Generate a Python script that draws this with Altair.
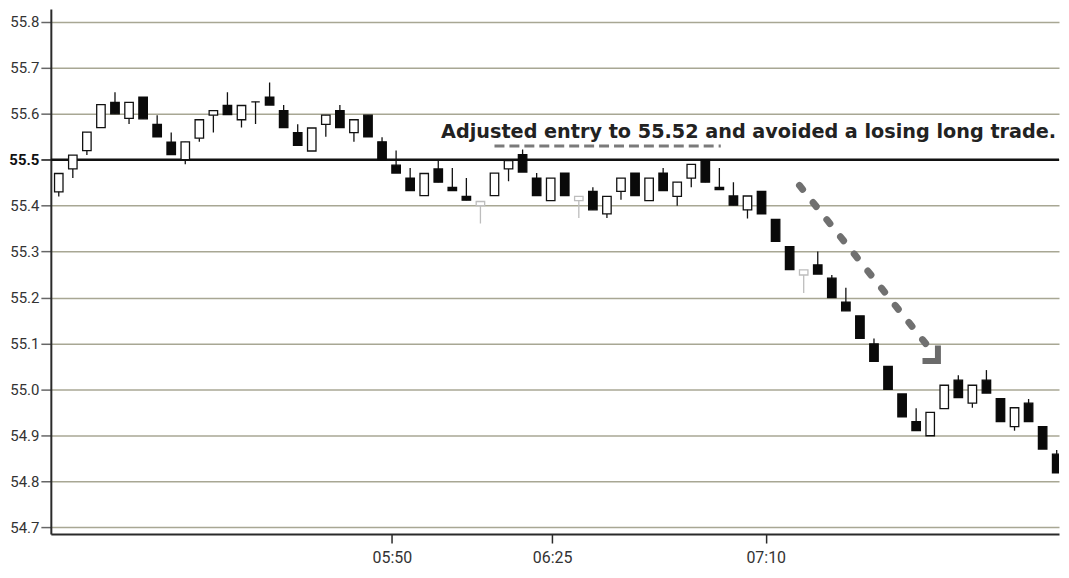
import altair as alt
import pandas as pd

# ---- candle data (index = bar number, 3-minute bars) ----
opens = [55.43, 55.48, 55.52, 55.57, 55.625, 55.59, 55.636, 55.577, 55.538, 55.50,
         55.547, 55.597, 55.618, 55.587, 55.626, 55.636, 55.607, 55.559, 55.519, 55.577,
         55.607, 55.559, 55.597, 55.539, 55.488, 55.46, 55.422, 55.48, 55.44, 55.42,
         55.40, 55.422, 55.48, 55.511, 55.46, 55.411, 55.471, 55.411, 55.431, 55.382,
         55.431, 55.471, 55.411, 55.471, 55.42, 55.46, 55.50, 55.44, 55.421, 55.391,
         55.431, 55.37, 55.311, 55.249, 55.271, 55.242, 55.19, 55.16, 55.099, 55.05,
         54.99, 54.93, 54.899, 54.958, 55.02, 54.97, 55.02, 54.98, 54.919, 54.97,
         54.919, 54.859]
closes = [55.47, 55.51, 55.56, 55.62, 55.60, 55.625, 55.589, 55.55, 55.511, 55.539,
          55.587, 55.607, 55.598, 55.618, 55.626, 55.619, 55.57, 55.531, 55.569, 55.597,
          55.57, 55.587, 55.55, 55.50, 55.471, 55.433, 55.47, 55.451, 55.433, 55.412,
          55.409, 55.471, 55.498, 55.473, 55.422, 55.46, 55.422, 55.42, 55.391, 55.42,
          55.46, 55.422, 55.46, 55.433, 55.451, 55.49, 55.451, 55.435, 55.401, 55.421,
          55.382, 55.322, 55.261, 55.26, 55.251, 55.20, 55.171, 55.111, 55.061, 55.0,
          54.94, 54.91, 54.95, 55.009, 54.982, 55.009, 54.992, 54.93, 54.96, 54.93,
          54.87, 54.818]
highs = [55.47, 55.51, 55.56, 55.62, 55.647, 55.625, 55.636, 55.597, 55.559, 55.539,
         55.587, 55.607, 55.647, 55.618, 55.626, 55.668, 55.619, 55.577, 55.569, 55.597,
         55.619, 55.587, 55.597, 55.549, 55.52, 55.482, 55.47, 55.498, 55.482, 55.46,
         55.409, 55.471, 55.498, 55.522, 55.471, 55.46, 55.471, 55.42, 55.44, 55.42,
         55.46, 55.471, 55.46, 55.482, 55.451, 55.49, 55.50, 55.482, 55.451, 55.421,
         55.431, 55.37, 55.311, 55.26, 55.30, 55.249, 55.221, 55.16, 55.111, 55.05,
         54.99, 54.959, 54.95, 55.009, 55.031, 55.009, 55.042, 54.98, 54.96, 54.979,
         54.919, 54.868]
lows = [55.42, 55.46, 55.51, 55.57, 55.60, 55.578, 55.589, 55.55, 55.511, 55.49,
        55.539, 55.559, 55.598, 55.57, 55.578, 55.619, 55.57, 55.531, 55.519, 55.55,
        55.57, 55.539, 55.55, 55.50, 55.471, 55.433, 55.422, 55.451, 55.433, 55.412,
        55.361, 55.422, 55.453, 55.473, 55.422, 55.411, 55.422, 55.373, 55.391, 55.373,
        55.413, 55.422, 55.411, 55.433, 55.40, 55.44, 55.451, 55.435, 55.401, 55.372,
        55.382, 55.322, 55.261, 55.21, 55.251, 55.20, 55.171, 55.111, 55.061, 55.0,
        54.94, 54.91, 54.899, 54.958, 54.982, 54.96, 54.992, 54.93, 54.91, 54.93,
        54.87, 54.818]
gray_bars = [30, 37, 53]

y_ticks = [54.7, 54.8, 54.9, 55.0, 55.1, 55.2, 55.3, 55.4, 55.5, 55.6, 55.7, 55.8]
x_tick_pos = [23.7, 35.1, 50.3]
x_tick_labels = ["05:50", "06:25", "07:10"]

entry_level = [55.5]
adjusted_level = [55.53]
annotation = ["Adjusted entry to 55.52 and avoided a losing long trade."]
arrow_x = [52.7, 62.2]
arrow_y = [55.444, 55.08]
arrow_head = (62.55, 55.062)

# ---- tables ----
styles = []
for i, (o, c) in enumerate(zip(opens, closes)):
    if i in gray_bars:
        styles.append("gray")
    elif c >= o:
        styles.append("up")
    else:
        styles.append("down")

df = pd.DataFrame({
    "idx": list(range(len(opens))),
    "open": opens, "close": closes, "high": highs, "low": lows, "style": styles,
})

xscale = alt.Scale(domain=[-0.21, 70.81], nice=False, zero=False)
yscale = alt.Scale(domain=[54.685, 55.828], nice=False, zero=False)

label_expr = "".join(f"datum.value == {p} ? '{l}' : " for p, l in zip(x_tick_pos, x_tick_labels)) + "''"

x_axis = alt.Axis(values=x_tick_pos, labelExpr=label_expr, title=None, grid=False,
                  domainColor="#2a2a2a", domainWidth=2, tickColor="#2a2a2a", tickWidth=1.5,
                  tickSize=9, labelFont="Roboto", labelFontSize=16, labelColor="#333333",
                  labelPadding=7)
y_axis = alt.Axis(values=y_ticks, format=".1f", title=None, grid=True,
                  gridColor="#a8a794", gridWidth=1.5,
                  domainColor="#2a2a2a", domainWidth=2,
                  tickColor=alt.expr("datum.value == 55.5 ? '#111111' : '#666666'"),
                  tickWidth=1.5, tickSize=10,
                  labelFont="Roboto", labelFontSize=15,
                  labelFontWeight=alt.expr("datum.value == 55.5 ? 'bold' : 'normal'"),
                  labelColor=alt.expr("datum.value == 55.5 ? '#111111' : '#333333'"),
                  labelPadding=2)


def X(field):
    return alt.X(field, scale=xscale, axis=x_axis)


def Y(field):
    return alt.Y(field, scale=yscale, axis=y_axis)


style_dom = ["up", "down", "gray"]

wicks = alt.Chart(df).mark_rule(strokeWidth=1.3, clip=True).encode(
    x=X("idx:Q"), y=Y("low:Q"), y2="high:Q",
    color=alt.Color("style:N", scale=alt.Scale(domain=style_dom,
                    range=["#111111", "#111111", "#bdbdbd"]), legend=None),
)

bodies = alt.Chart(df).mark_bar(width=8.5, strokeWidth=1.3, clip=True).encode(
    x=X("idx:Q"), y=Y("open:Q"), y2="close:Q",
    fill=alt.Fill("style:N", scale=alt.Scale(domain=style_dom,
                  range=["#ffffff", "#0a0a0a", "#ffffff"]), legend=None),
    stroke=alt.Stroke("style:N", scale=alt.Scale(domain=style_dom,
                      range=["#111111", "#0a0a0a", "#bdbdbd"]), legend=None),
)

entry = alt.Chart(pd.DataFrame({"level": entry_level})).mark_rule(
    color="#111111", strokeWidth=2.5).encode(y=Y("level:Q"))

adj = alt.Chart(pd.DataFrame({"level": adjusted_level, "x0": [31.0], "x1": [47.1]})).mark_rule(
    color="#7a7a7a", strokeWidth=3, strokeDash=[10, 5]).encode(
    x=X("x0:Q"), x2="x1:Q", y=Y("level:Q"))

text = alt.Chart(pd.DataFrame({"t": annotation, "x": [27.2], "y": [55.548]})).mark_text(
    align="left", baseline="alphabetic", font="DejaVu Sans", fontWeight="bold",
    fontSize=19.3, color="#222222").encode(
    x=X("x:Q"), y=Y("y:Q"), text="t:N")

arrow = alt.Chart(pd.DataFrame({"x": arrow_x, "y": arrow_y, "o": [0, 1]})).mark_line(
    color="#707070", strokeWidth=7, strokeDash=[5, 17], strokeCap="round").encode(
    x=X("x:Q"), y=Y("y:Q"), order="o:Q")

head = alt.Chart(pd.DataFrame({"x": [arrow_head[0]], "y": [arrow_head[1]]})).mark_point(
    shape="M-1,-1L0,0L1,-1", angle=315, size=480, filled=False, strokeWidth=6,
    color="#6b6b6b", opacity=1, strokeJoin="miter").encode(
    x=X("x:Q"), y=Y("y:Q"))

chart = alt.layer(wicks, entry, bodies, adj, text, arrow, head).properties(
    width=1012, height=527, padding=0, background="white"
).configure_view(strokeWidth=0)

chart.save("out.html", embed_options={"renderer": "svg", "actions": False})
